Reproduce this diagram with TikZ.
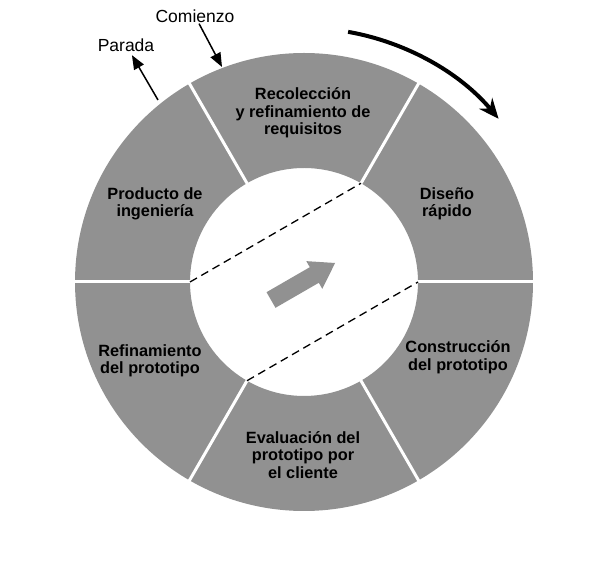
\documentclass[tikz,border=0pt]{standalone}
\usepackage{fontspec}
\setmainfont{Liberation Sans}
\usetikzlibrary{arrows.meta,calc}
\definecolor{ringgray}{RGB}{145,145,145}
\begin{document}
\begin{tikzpicture}[x=1pt,y=1pt,
  lbl/.style={font=\bfseries\fontsize{16.3}{17.5}\selectfont, align=center, inner sep=0pt, text=black},
  toplbl/.style={font=\fontsize{17.5}{18}\selectfont, inner sep=1pt, text=black},
  spoke/.style={white, line width=3pt},
  chord/.style={black, line width=1.3pt, dash pattern=on 8pt off 5pt},
  thin arrow/.style={black, line width=1.5pt, -{Triangle[length=14pt,width=11pt]}}
]
\useasboundingbox (0,0) rectangle (607,567);
\coordinate (C) at (304,285);
% ring
\fill[ringgray, even odd rule] (C) circle (229) (C) circle (114);
% spokes
\foreach \a in {0,60,120,180,240,300}
  \draw[spoke] ($(C)+(\a:113)$) -- ($(C)+(\a:230)$);
% dashed chords
\draw[chord] ($(C)+(180:114)$) -- ($(C)+(60:114)$);
\draw[chord] ($(C)+(240:114)$) -- ($(C)+(0:114)$);
% central block arrow
\begin{scope}[shift={(271,267)}, rotate=30]
  \fill[ringgray] (0,-9) -- (50,-9) -- (50,-16) -- (74,0) -- (50,16) -- (50,9) -- (0,9) -- cycle;
\end{scope}
% outer rotation arrow
\draw[black, line width=4pt, -{Stealth[length=20pt,width=17pt]}]
  ($(C)+(80:254)$) arc[start angle=80, end angle=40, radius=254];
% labels in sectors
\node[lbl] (req) at (303,454) {Recolección\\y refinamiento de\\requisitos};
\node[lbl] (dis) at (447,363) {Diseño\\rápido};
\node[lbl] (con) at (458,210) {Construcción\\del prototipo};
\node[lbl] (eva) at (303,112) {Evaluación del\\prototipo por\\el cliente};
\node[lbl] (ref) at (150,206) {Refinamiento\\del prototipo};
\node[lbl] (pro) at (155,363) {Producto de\\ingeniería};
% start / stop
\node[toplbl] (comienzo) at (195,551) {Comienzo};
\node[toplbl] (parada) at (126,522) {Parada};
\coordinate (ctip) at (222,500);
\coordinate (pstart) at (158,467);
\draw[thin arrow] (comienzo) -- (ctip);
\draw[thin arrow, shorten >=3pt] (pstart) -- (parada);
\end{tikzpicture}
\end{document}
